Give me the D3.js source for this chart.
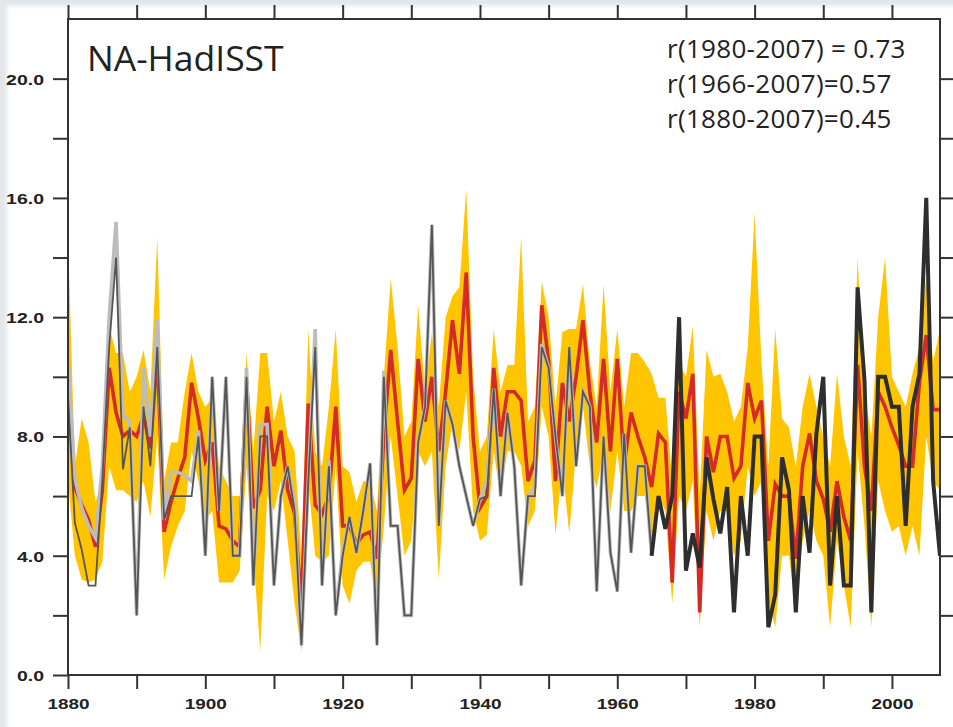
<!DOCTYPE html>
<html>
<head>
<meta charset="utf-8">
<script src="https://cdn.jsdelivr.net/npm/d3@7/dist/d3.min.js"></script>
<style>
  html, body { margin: 0; padding: 0; background: #e4e7ea; }
  svg { display: block; }
</style>
</head>
<body>
<svg id="chart" width="953" height="727"></svg>
<script>
// ---------------- DATA ----------------
const firstYear = 1880, lastYear = 2007;
const years = d3.range(firstYear, lastYear + 1);

// model ensemble spread: upper and lower bounds (yellow band)
const bandUpper = [
  14.7, 7.0, 8.6, 7.8, 5.8, 6.5, 11.7, 10.8, 10.8, 9.5,
  10.0, 10.9, 9.5, 14.7, 6.5, 7.8, 7.8, 9.5, 10.8, 9.5,
  9.0, 9.3, 7.0, 6.5, 6.0, 6.0, 10.8, 7.5, 10.8, 10.8,
  8.5, 9.5, 8.0, 7.5, 4.0, 11.6, 7.5, 7.0, 9.0, 11.6,
  7.0, 6.8, 5.8, 6.5, 6.5, 5.5, 10.0, 13.3, 11.0, 8.0,
  8.5, 12.4, 9.5, 11.5, 9.0, 12.0, 12.7, 13.0, 16.3, 10.0,
  7.5, 8.0, 11.6, 9.5, 10.4, 10.4, 14.7, 8.5, 9.0, 13.2,
  12.0, 9.0, 11.5, 11.6, 11.6, 13.1, 10.5, 9.0, 13.1, 9.5,
  11.6, 9.0, 10.8, 10.8, 10.5, 10.1, 9.3, 9.3, 6.5, 10.5,
  10.0, 11.7, 6.0, 10.9, 10.0, 10.1, 9.5, 8.5, 9.0, 11.0,
  15.5, 10.5, 7.0, 11.6, 8.6, 8.3, 7.0, 9.0, 10.1, 9.0,
  8.0, 7.0, 10.1, 8.0, 7.0, 14.0, 9.5, 8.0, 12.0, 14.0,
  10.0, 9.5, 9.0, 10.1, 11.0, 13.4, 10.5, 11.6
];
const bandLower = [
  6.5, 4.0, 3.2, 3.1, 3.2, 3.8, 7.0, 6.2, 6.2, 6.0,
  5.8, 6.5, 5.3, 8.0, 3.2, 4.3, 5.0, 5.5, 7.5, 6.5,
  5.2, 5.5, 3.1, 3.1, 3.1, 3.5, 7.0, 4.0, 0.8, 6.0,
  5.5, 6.5, 4.5, 2.4, 0.8, 6.5, 4.0, 3.8, 4.0, 7.0,
  3.0, 2.4, 3.5, 3.8, 3.8, 2.4, 5.0, 8.0, 6.0, 4.0,
  4.5, 7.5, 7.0, 7.5, 3.2, 7.0, 8.5, 7.5, 9.5, 5.5,
  4.5, 4.7, 7.5, 6.0, 7.5, 7.5, 7.0, 5.0, 5.5, 9.0,
  8.0, 4.7, 7.0, 4.75, 7.5, 9.0, 7.0, 6.3, 7.5, 5.5,
  7.5, 5.5, 5.5, 6.0, 6.0, 4.5, 6.0, 5.5, 2.4, 6.0,
  5.5, 6.5, 1.6, 5.5, 4.5, 5.5, 5.5, 4.0, 4.5, 7.0,
  6.0, 6.5, 2.5, 1.6, 4.0, 4.0, 2.2, 4.5, 5.5, 4.5,
  4.0, 1.6, 4.5, 3.0, 1.6, 7.5, 5.0, 1.6, 6.5, 5.5,
  4.8, 5.0, 4.0, 5.0, 4.0, 8.0, 6.5, 6.2
];
// ensemble mean (red)
const ensembleMean = [
  9.8, 6.3, 5.7, 5.2, 4.3, 6.2, 10.3, 8.8, 8.0, 8.2,
  8.0, 8.7, 7.6, 10.8, 4.8, 5.8, 6.6, 7.3, 9.8, 8.6,
  7.2, 7.8, 5.0, 4.9, 4.5, 4.3, 9.9, 5.6, 6.2, 9.0,
  7.0, 8.2, 6.2, 5.4, 2.3, 9.1, 5.7, 5.4, 6.0, 9.0,
  5.0, 5.0, 4.4, 4.7, 4.8, 3.9, 8.0, 10.9, 8.5, 6.2,
  6.6, 10.6, 8.5, 10.0, 7.5, 9.5, 11.9, 10.1, 13.5, 8.0,
  5.6, 6.0, 10.3, 8.0, 9.5, 9.5, 9.2, 6.5, 7.2, 12.4,
  10.5, 6.5, 9.8, 8.5, 10.0, 11.9, 9.5, 7.8, 10.6, 7.5,
  10.6, 7.0, 8.8, 8.0, 7.3, 6.3, 8.1, 7.8, 3.1, 9.5,
  8.6, 10.1, 2.1, 8.0, 6.8, 8.0, 8.0, 6.6, 7.0, 9.8,
  8.6, 9.2, 4.5, 6.4, 6.0, 6.0, 3.9, 7.0, 8.1, 6.5,
  5.9, 4.8, 6.5, 5.3, 4.5, 10.4, 7.0, 5.5, 9.5, 9.0,
  8.3, 7.7, 7.0, 7.0, 9.8, 11.4, 8.9, 8.9
];
// observed counts (dark line)
const observed = [
  9.3, 5.1, 4.2, 3.0, 3.0, 6.5, 11.0, 14.0, 6.9, 8.3,
  2.0, 9.0, 7.0, 11.0, 5.2, 6.0, 6.0, 6.0, 6.0, 8.0,
  4.0, 10.0, 5.5, 10.0, 4.0, 4.0, 10.0, 3.0, 8.0, 8.0,
  3.0, 6.0, 7.0, 5.5, 1.0, 6.5, 11.0, 3.0, 7.0, 2.0,
  4.0, 5.3, 4.1, 5.5, 7.1, 1.0, 10.0, 5.0, 5.0, 2.0,
  2.0, 7.8, 9.0, 15.1, 5.0, 9.2, 8.4, 7.0, 6.0, 5.0,
  5.9, 6.0, 9.6, 6.0, 8.8, 7.0, 3.0, 6.0, 6.0, 11.0,
  10.3, 8.0, 6.0, 11.0, 7.0, 9.5, 9.0, 2.8, 8.0, 4.1,
  2.8, 8.1, 4.1, 7.0, 7.0, 4.0, 6.0, 4.9, 6.0, 12.0,
  3.5, 4.75, 3.6, 7.3, 5.9, 4.75, 6.3, 2.1, 6.0, 4.0,
  8.0, 8.0, 1.6, 2.7, 7.3, 6.2, 2.1, 6.0, 4.1, 8.1,
  10.0, 3.0, 6.0, 3.0, 3.0, 13.0, 9.9, 2.1, 10.0, 10.0,
  9.0, 9.0, 5.0, 9.0, 10.1, 16.0, 6.5, 4.0
];
// alternative (unadjusted) observed counts (light grey line)
const observedAlt = [
  10.6, 6.6, 5.6, 5.0, 4.6, 7.0, 12.0, 15.2, 8.7, 8.5,
  2.0, 10.3, 8.0, 11.9, 5.2, 6.8, 6.8, 6.7, 6.5, 8.2,
  4.0, 10.0, 5.5, 10.0, 4.0, 4.0, 10.3, 3.0, 8.4, 8.4,
  3.0, 6.0, 7.0, 5.8, 1.0, 6.5, 11.6, 3.0, 7.2, 2.0,
  4.2, 5.3, 4.1, 5.5, 7.1, 1.0, 10.2, 5.0, 5.0, 2.0,
  2.0, 7.8, 9.0, 15.1, 5.0, 9.2, 8.4, 7.0, 6.0, 5.0,
  5.9, 6.5, 9.6, 6.0, 8.8, 7.0, 3.0, 6.0, 6.3, 11.1,
  10.3, 8.0, 6.0, 11.0, 7.0, 9.5, 9.0, 2.8, 8.0, 4.1,
  2.8, 8.1, 4.1, 7.0, 7.0, 4.0
];
const thickFrom = 1965;           // observations drawn as thick black line from here on
const xTickValues = d3.range(1880, 2001, 10);
const xLabelValues = [1880, 1900, 1920, 1940, 1960, 1980, 2000];
const yTickValues = d3.range(0, 22.1, 2);
const yLabelValues = [0, 4, 8, 12, 16, 20];
const titleText = "NA-HadISST";
const corrTexts = ["r(1980-2007) = 0.73", "r(1966-2007)=0.57", "r(1880-2007)=0.45"];

// ---------------- CHART ----------------
(function () {
const svg = d3.select("#chart");
const W = 953, H = 727;
const pLeft = 68, pRight = 940, pTop = 19, pBottom = 675;

const defs = svg.append("defs");
defs.append("filter").attr("id", "soft").attr("x", "-5%").attr("y", "-5%").attr("width", "110%").attr("height", "110%")
  .append("feGaussianBlur").attr("stdDeviation", 2);
defs.append("clipPath").attr("id", "plotClip")
  .append("rect").attr("x", pLeft).attr("y", pTop).attr("width", pRight - pLeft).attr("height", pBottom - pTop);

// white card
svg.append("rect").attr("x", 7).attr("y", 6).attr("width", W).attr("height", H)
  .attr("fill", "#ffffff").attr("filter", "url(#soft)");

const x = d3.scaleLinear().domain([firstYear, lastYear]).range([pLeft, pRight]);
const y = d3.scaleLinear().domain([0, 22]).range([pBottom, pTop]);

const rows = years.map((yr, i) => ({
  year: yr, lo: bandLower[i], hi: bandUpper[i], mean: ensembleMean[i],
  obs: observed[i], alt: i < observedAlt.length ? observedAlt[i] : null
}));

const plot = svg.append("g").attr("clip-path", "url(#plotClip)");

plot.append("path").datum(rows)
  .attr("fill", "#ffc500")
  .attr("d", d3.area().x(d => x(d.year)).y0(d => y(d.lo)).y1(d => y(d.hi)));

plot.append("path").datum(rows)
  .attr("fill", "none").attr("stroke", "#d42b27").attr("stroke-width", 3.6)
  .attr("d", d3.line().x(d => x(d.year)).y(d => y(d.mean)));

const altRows = rows.filter(d => d.alt !== null);
plot.append("path").datum(altRows)
  .attr("fill", "none").attr("stroke", "#bcbcbc").attr("stroke-width", 3.6)
  .attr("d", d3.line().x(d => x(d.year)).y(d => y(d.alt)));

const early = rows.filter(d => d.year <= thickFrom);
plot.append("path").datum(early)
  .attr("fill", "none").attr("stroke", "#555").attr("stroke-width", 1.8)
  .attr("d", d3.line().x(d => x(d.year)).y(d => y(d.obs)));

const late = rows.filter(d => d.year >= thickFrom);
plot.append("path").datum(late)
  .attr("fill", "none").attr("stroke", "#2e2e2e").attr("stroke-width", 4)
  .attr("d", d3.line().x(d => x(d.year)).y(d => y(d.obs)));

// frame
svg.append("rect").attr("x", pLeft).attr("y", pTop).attr("width", pRight - pLeft).attr("height", pBottom - pTop)
  .attr("fill", "none").attr("stroke", "#333").attr("stroke-width", 2);

const labelFont = "'Liberation Sans', Arial, Helvetica, sans-serif";

function styleAxis(g) {
  g.select(".domain").remove();
  g.selectAll(".tick line").attr("stroke", "#333").attr("stroke-width", 2);
}

// bottom axis
const gx = svg.append("g").attr("transform", `translate(0,${pBottom})`)
  .call(d3.axisBottom(x).tickValues(xTickValues).tickSize(14)
    .tickFormat(d => xLabelValues.includes(d) ? String(d) : ""));
styleAxis(gx);
gx.selectAll(".tick text")
  .attr("y", 34).attr("dy", 0)
  .attr("font-family", labelFont).attr("font-size", 15.5).attr("font-weight", "bold")
  .attr("fill", "#222").attr("text-anchor", "middle")
  .attr("transform", "scale(1.22,1)");

// top axis
const gt = svg.append("g").attr("transform", `translate(0,${pTop})`)
  .call(d3.axisTop(x).tickValues(xTickValues).tickSize(14).tickFormat(""));
styleAxis(gt);

// left axis
const gy = svg.append("g").attr("transform", `translate(${pLeft},0)`)
  .call(d3.axisLeft(y).tickValues(yTickValues.filter(v => v < 22)).tickSize(15)
    .tickFormat(d => yLabelValues.includes(d) ? d.toFixed(1) : ""));
styleAxis(gy);
gy.selectAll(".tick text")
  .attr("x", -24 / 1.3).attr("dy", "0.36em")
  .attr("font-family", labelFont).attr("font-size", 15).attr("font-weight", "bold")
  .attr("fill", "#222").attr("text-anchor", "end")
  .attr("transform", "scale(1.3,1)");

// right axis
const gr = svg.append("g").attr("transform", `translate(${pRight},0)`)
  .call(d3.axisRight(y).tickValues(yTickValues.filter(v => v > 0 && v < 22)).tickSize(14).tickFormat(""));
styleAxis(gr);

// title and correlation texts
const textFont = "'Open Sans', 'Noto Sans', sans-serif";
svg.append("text").attr("x", 87).attr("y", 71)
  .attr("font-family", textFont).attr("font-size", 35.5).attr("fill", "#222")
  .text(titleText);

svg.append("g").selectAll("text").data(corrTexts).join("text")
  .attr("x", 667).attr("y", (d, i) => 58 + i * 35)
  .attr("font-family", textFont).attr("font-size", 26).attr("letter-spacing", 0.3)
  .attr("fill", "#222")
  .text(d => d);
})();
</script>
</body>
</html>
